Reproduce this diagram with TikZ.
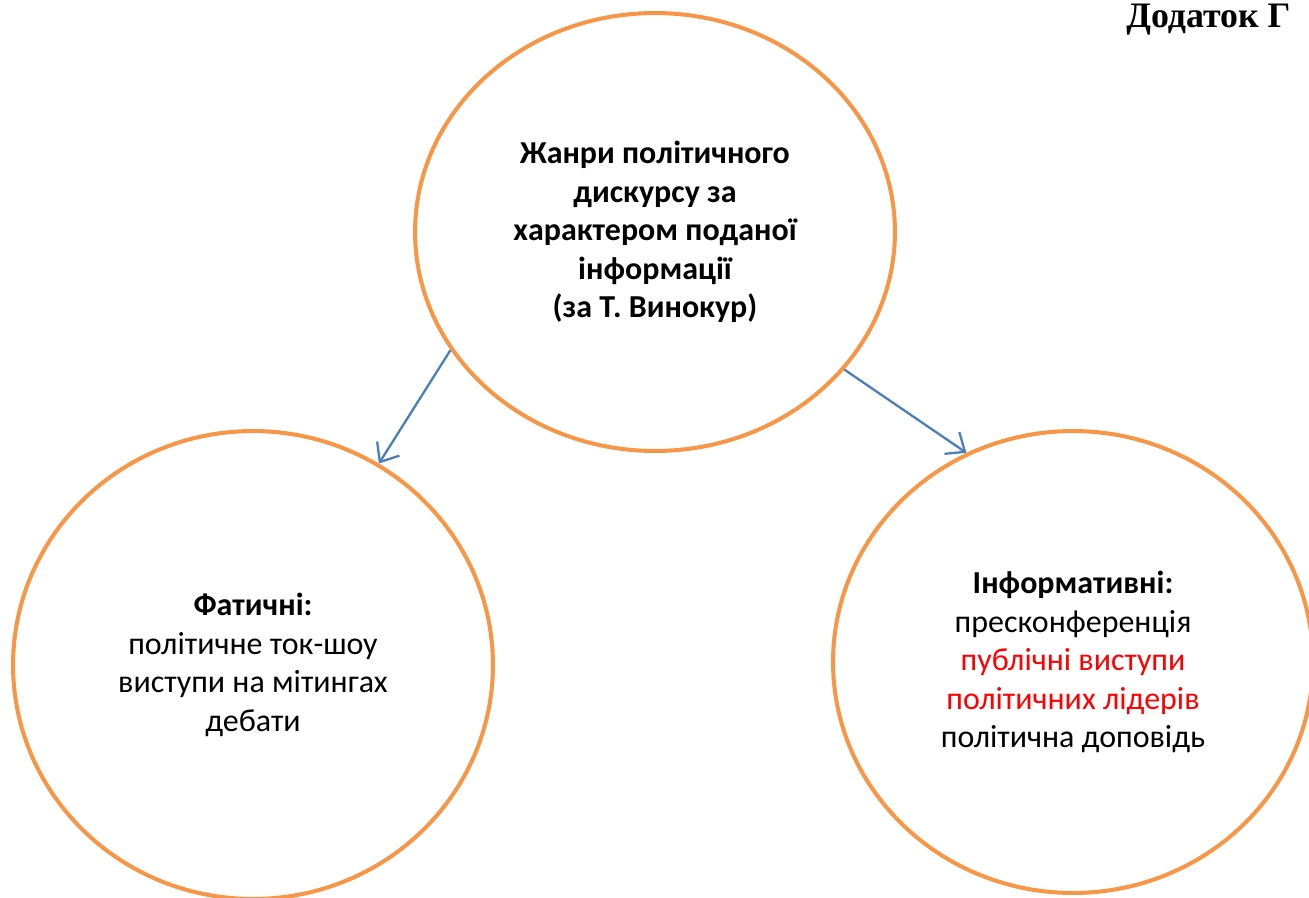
\documentclass[tikz,border=0pt]{standalone}
\usepackage{fontspec}
\setmainfont{Carlito}
\newfontfamily\titlefont{Liberation Serif}
\usepackage{tikz}
\usetikzlibrary{shapes.geometric, arrows.meta}
\definecolor{ringorange}{RGB}{247, 150, 70}
\definecolor{linkblue}{RGB}{74, 126, 187}
\definecolor{hotred}{RGB}{255, 0, 0}

\begin{document}
\begin{tikzpicture}[
    x=0.02cm, y=-0.02cm,
    genre/.style={ellipse, draw=ringorange, line width=2.3pt, inner sep=0pt,
        minimum width=9.6cm, minimum height=#1, align=center,
        font=\fontsize{18.2}{21.9}\selectfont},
    link/.style={-{Straight Barb[length=9pt, width=15pt]}, line width=1.3pt, linkblue}
]

\useasboundingbox (0, 0) rectangle (1309, 897);
\clip (0, 0) rectangle (1309, 897);

% Title
\node[anchor=base west, inner sep=0pt, font=\titlefont\fontsize{20.4}{24}\selectfont\bfseries]
    (title) at (1126, 27) {Додаток Г};

% Ellipses
\node[genre=8.76cm, font=\fontsize{18.2}{21.9}\selectfont\bfseries] (main) at (655, 232)
    {Жанри політичного\\дискурсу за\\характером поданої\\інформації\\(за Т. Винокур)};
\node[genre=9.36cm] (phatic) at (253, 665)
    {\textbf{Фатичні:}\\політичне ток-шоу\\виступи на мітингах\\дебати};
\node[genre=9.24cm] (inform) at (1073, 662)
    {\textbf{Інформативні:}\\пресконференція\\\textcolor{hotred}{публічні виступи}\\\textcolor{hotred}{політичних лідерів}\\політична доповідь};

% Arrows
\draw[link] (main.210) -- (phatic.58);
\draw[link] (main.324) -- (inform.117);

\end{tikzpicture}
\end{document}
